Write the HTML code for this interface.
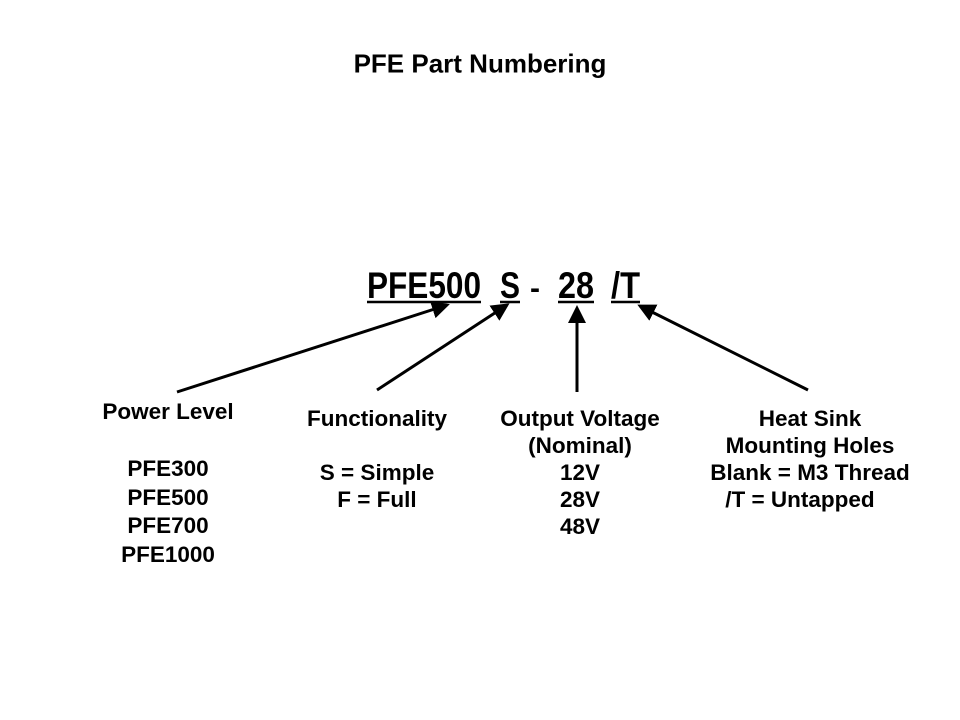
<!DOCTYPE html>
<html><head><style>
body{margin:0;background:#fff;}
.w{position:relative;width:960px;height:720px;overflow:hidden;font-family:"Liberation Sans",Arial,sans-serif;font-weight:bold;color:#000;}
.t{position:absolute;white-space:nowrap;transform:translate(-50%,-50%);}
.l{font-size:22.5px;text-align:center;line-height:27px;position:absolute;transform:translateX(-50%);white-space:nowrap;}
</style></head><body><div class="w">
<div class="t" style="left:480px;top:64px;font-size:26px;">PFE Part Numbering</div>
<svg width="960" height="720" style="position:absolute;left:0;top:0">
<g font-family="Liberation Sans,Arial,sans-serif" font-weight="bold" font-size="37">
<text x="367" y="298" textLength="114" lengthAdjust="spacingAndGlyphs">PFE500</text>
<text x="500" y="298" textLength="20" lengthAdjust="spacingAndGlyphs">S</text>
<text x="530" y="298" font-size="30">-</text>
<text x="558" y="298" textLength="36" lengthAdjust="spacingAndGlyphs">28</text>
<text x="611" y="298" textLength="29" lengthAdjust="spacingAndGlyphs">/T</text>
</g>
<g stroke="#000" stroke-width="2.5">
<line x1="367" y1="302" x2="481" y2="302"/>
<line x1="500" y1="302" x2="520" y2="302"/>
<line x1="558" y1="302" x2="594" y2="302"/>
<line x1="611" y1="302" x2="640" y2="302"/>
</g>
<defs><marker id="a" markerWidth="6" markerHeight="6" refX="5" refY="3" orient="auto" markerUnits="strokeWidth"><path d="M0,0 L6,3 L0,6 z" fill="#000"/></marker></defs>
<g stroke="#000" stroke-width="3" marker-end="url(#a)">
<line x1="177" y1="392" x2="447" y2="305"/>
<line x1="377" y1="390" x2="507" y2="305"/>
<line x1="577" y1="392" x2="577" y2="308"/>
<line x1="808" y1="390" x2="640" y2="306"/>
</g>
</svg>
<div class="l" style="left:168px;top:398px;line-height:28.5px;">Power Level<br><br>PFE300<br>PFE500<br>PFE700<br>PFE1000</div>
<div class="l" style="left:377px;top:405px;">Functionality<br><br>S = Simple<br>F = Full</div>
<div class="l" style="left:580px;top:405px;">Output Voltage<br>(Nominal)<br>12V<br>28V<br>48V</div>
<div class="l" style="left:810px;top:405px;">Heat Sink<br>Mounting Holes<br>Blank = M3 Thread<br><span style="position:relative;left:-10px">/T = Untapped</span></div>
</div></body></html>
